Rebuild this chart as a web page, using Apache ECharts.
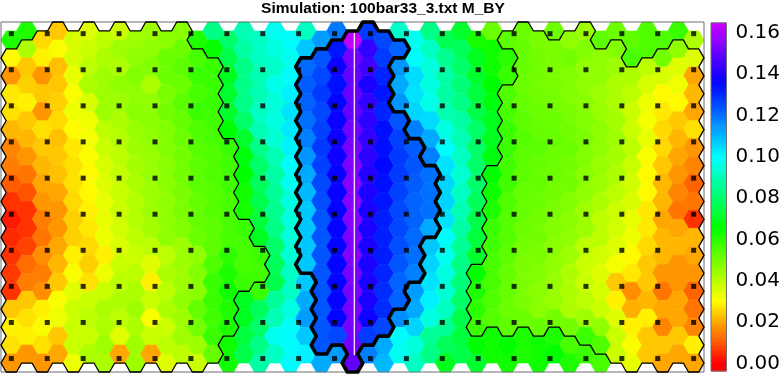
<!DOCTYPE html>
<html><head><meta charset="utf-8">
<script src="https://cdn.jsdelivr.net/npm/echarts@6/dist/echarts.min.js"></script>
<style>html,body{margin:0;padding:0;background:#fff}#chart{width:783px;height:374px}</style>
</head><body><div id="chart"></div>
<script>
// ---------------- data ----------------
const titleText = 'Simulation: 100bar33_3.txt M_BY';
const colorbarTicks = [0.00, 0.02, 0.04, 0.06, 0.08, 0.10, 0.12, 0.14, 0.16];
const colorbarRange = [-0.0037, 0.1648];
// colour scale anchors: [value, hue]
const hueAnchors = [[0, 0], [0.0306, 60], [0.066, 120], [0.100, 180], [0.136, 240], [0.1648, 288]];

// cell values (x 0.001), one row per hex row, 45 hex columns (left to right)
const cellRows = [
[62,62,26,24,36, 35,40,38,44,44, 47,47,62,84,80, 90,92,98,100,92, 114,119,163,128,126, 93,98,84,77,72, 63,51,53,51,49, 51,46,44,53,51, 53,55,55,58,42],
[30,42,29,31,36, 38,42,44,46,46, 51,51,56,65,76, 88,92,96,98,108, 124,133,152,143,128, 122,100,92,85,78, 70,64,60,52,50, 49,50,48,46,48, 56,55,50,46,35],
[18,24,18,23,34, 40,44,42,48,48, 51,53,58,58,70, 84,90,93,100,121, 126,138,150,145,131, 115,105,95,88,80, 72,64,58,52,50, 49,48,46,46,44, 42,40,36,35,20],
[28,25,24,24,31, 42,44,46,46,42, 49,51,56,58,72, 84,90,97,102,123, 128,134,151,140,133, 112,104,96,88,82, 74,66,55,51,50, 49,48,46,44,42, 40,36,30,33,22],
[27,29,18,25,33, 36,44,44,47,46, 50,53,58,58,72, 84,92,95,104,122, 126,136,150,143,131, 115,106,97,90,84, 76,68,56,52,51, 50,49,47,45,42, 38,33,28,30,20],
[22,24,27,26,30, 33,40,42,45,47, 48,52,55,57,66, 80,90,96,103,120, 127,137,152,142,134, 124,118,105,96,88, 80,70,58,53,52, 51,50,48,46,43, 38,32,26,24,27],
[16,22,24,23,28, 32,38,41,44,46, 48,51,54,56,58, 72,84,94,102,118, 128,138,153,143,134, 127,123,112,100,90, 80,70,58,54,53, 52,51,49,46,44, 40,34,26,22,18],
[15,18,22,24,27, 31,36,40,43,45, 47,50,53,55,57, 68,80,90,100,115, 127,138,154,142,135, 128,124,118,104,92, 80,68,57,53,52, 51,50,48,45,43, 38,31,24,20,16],
[11,14,20,23,27, 30,35,39,42,45, 47,50,53,55,57, 66,78,88,98,112, 126,137,155,141,134, 128,123,120,106,94, 80,66,57,53,52, 51,50,47,44,42, 37,30,22,18,12],
[6,10,18,20,26, 30,34,38,41,44, 46,49,52,54,56, 64,76,86,96,110, 125,137,155,140,133, 127,122,120,106,92, 78,64,55,52,51, 50,48,46,42,40, 36,30,22,16,14],
[3,6,15,18,25, 29,34,38,41,44, 46,49,52,54,56, 63,74,85,95,108, 124,136,155,140,132, 126,122,120,104,90, 76,62,54,52,50, 49,47,44,40,38, 34,28,20,14,6],
[5,6,14,18,25, 28,33,37,40,43, 46,48,51,53,56, 58,70,84,95,108, 124,136,154,140,132, 126,121,112,100,88, 74,58,54,51,50, 48,46,44,40,37, 33,28,22,20,22],
[6,8,17,20,29, 26,29,36,38,40, 40,44,46,53,60, 56,58,80,94,108, 124,136,154,140,132, 125,120,108,98,86, 72,57,53,50,49, 47,44,40,37,35, 30,26,22,22,20],
[7,13,15,22,31, 25,33,38,40,35, 42,44,48,55,62, 56,57,78,92,108, 124,136,153,140,131, 124,118,106,96,84, 66,56,52,49,48, 46,42,38,35,32, 28,24,18,18,18],
[6,15,17,24,35, 27,38,40,42,29, 40,44,47,58,64, 58,58,76,92,108, 124,136,153,140,130, 122,114,104,94,82, 62,56,52,49,47, 45,42,38,36,24, 17,24,14,18,12],
[24,24,29,31,38, 38,42,42,44,38, 42,46,52,58,62, 70,78,86,96,112, 124,136,153,140,130, 122,112,102,92,80, 60,55,51,49,47, 45,42,40,38,29, 21,22,20,20,14],
[29,27,31,33,38, 40,42,40,42,31, 38,44,50,57,62, 70,80,90,100,114, 124,136,153,138,126, 116,106,96,86,76, 58,54,53,51,52, 50,50,44,46,35, 29,29,16,20,16],
[27,29,27,24,38, 38,44,35,44,38, 40,44,44,58,64, 74,84,98,100,108, 124,126,152,128,112, 100,95,86,78,74, 66,64,66,62,64, 62,56,58,55,38, 31,24,24,24,29],
[18,18,18,20,33, 42,42,20,44,20, 35,40,38,52,64, 76,88,92,100,102, 112,114,150,118,110, 98,92,84,70,76, 72,64,64,62,64, 66,62,58,56,38, 34,24,20,20,20]
];

// thin contour: cells inside the low region (1) / outside (0)
const thinMaskRows = [
"00 11111 11111 00000 00000 00000 00000 111 0 11 00000 00",
"11111 11111 111 00000 00000 00000 00000 11111 11 00 111",
"11111 11111 1111 00000 00000 00000 0000 11111 11111 11",
"11111 11111 1111 00000 00000 00000 000 11111 11111 111",
"11111 11111 1111 00000 00000 00000 000 11111 11111 111",
"11111 11111 1111 00000 00000 00000 000 11111 11111 111",
"11111 11111 11111 00000 00000 00000 00 11111 11111 111",
"11111 11111 11111 00000 00000 00000 00 11111 11111 111",
"11111 11111 11111 00000 00000 00000 0 11111 11111 1111",
"11111 11111 11111 00000 00000 00000 0 11111 11111 1111",
"11111 11111 11111 00000 00000 00000 0 11111 11111 1111",
"11111 11111 11111 1 00000 00000 00000 11111 11111 1111",
"11111 11111 11111 11 00000 00000 0000 11111 11111 1111",
"11111 11111 11111 11 00000 00000 000 11111 11111 11111",
"11111 11111 11111 1 00000 00000 0000 11111 11111 11111",
"11111 11111 11111 00000 00000 00000 11111 11111 11111",
"11111 11111 11111 00000 00000 00000 11111 11111 11111",
"11111 11111 1111 00000 00000 00000 00000 000 11111 111",
"11111 11111 1111 00000 00000 00000 00000 00000 11111 1"
];
// thick contour: cells inside the high region
const thickMaskRows = [
"00000 00000 00000 00000 00 111 00000 00000 00000 00000",
"00000 00000 00000 00000 11111 1 00000 00000 00000 0000",
"00000 00000 00000 0000 11111 1 00000 00000 00000 00000",
"00000 00000 00000 0000 11111 1 00000 00000 00000 00000",
"00000 00000 00000 0000 11111 1 00000 00000 00000 00000",
"00000 00000 00000 0000 11111 11 00000 00000 00000 0000",
"00000 00000 00000 0000 11111 111 00000 00000 00000 000",
"00000 00000 00000 0000 11111 111 00000 00000 00000 000",
"00000 00000 00000 0000 11111 1111 00000 00000 00000 00",
"00000 00000 00000 0000 11111 1111 00000 00000 00000 00",
"00000 00000 00000 0000 11111 1111 00000 00000 00000 00",
"00000 00000 00000 0000 11111 1111 00000 00000 00000 00",
"00000 00000 00000 0000 11111 111 00000 00000 00000 000",
"00000 00000 00000 0000 11111 111 00000 00000 00000 000",
"00000 00000 00000 00000 11111 1 00000 00000 00000 0000",
"00000 00000 00000 00000 11111 1 00000 00000 00000 0000",
"00000 00000 00000 00000 11111 00000 00000 00000 00000",
"00000 00000 00000 00000 1111 00000 00000 00000 00000 0",
"00000 00000 00000 00000 00 1 00000 00000 00000 00000 00"
];
// sample points (black squares), in hex-column / hex-row units
const dotX = [0, 2.316, 4.632, 6.947, 9.263, 11.579, 13.895, 16.211, 18.526, 20.842, 23.158, 25.474, 27.789, 30.105, 32.421, 34.737, 37.053, 39.368, 41.684, 44.0];
const dotY = [0.65, 2.66, 4.67, 6.68, 8.70, 10.71, 12.72, 14.73, 16.74, 18.75];
// the bar (white line)
const barLine = [[22.12, 0.61], [22.12, 18.55]];

// ---------------- helpers ----------------
const NR = cellRows.length, NC = cellRows[0].length;
const HA = 2 / 3; // hex half width in column units
function cyOf(i, j) { return j + (i % 2 ? 0.5 : 1.0); }
function hueAt(v) {
  if (v <= hueAnchors[0][0]) return hueAnchors[0][1];
  for (let k = 1; k < hueAnchors.length; k++) {
    const a = hueAnchors[k - 1], b = hueAnchors[k];
    if (v <= b[0]) return a[1] + (b[1] - a[1]) * (v - a[0]) / (b[0] - a[0]);
  }
  return hueAnchors[hueAnchors.length - 1][1];
}
function hsv(h) {
  h = ((h % 360) + 360) % 360;
  const f = (n) => { const k = (n + h / 60) % 6; return 1 - Math.max(0, Math.min(k, 4 - k, 1)); };
  const to = (x) => Math.round(x * 255).toString(16).padStart(2, '0');
  return '#' + to(f(5)) + to(f(3)) + to(f(1));
}
const scaleColors = [];
for (let k = 0; k <= 80; k++) {
  const v = colorbarRange[0] + (colorbarRange[1] - colorbarRange[0]) * k / 80;
  scaleColors.push(hsv(hueAt(v)));
}
function hexPts(i, j) {
  const x = i, y = cyOf(i, j);
  return [[x + HA, y], [x + HA / 2, y + 0.5], [x - HA / 2, y + 0.5], [x - HA, y], [x - HA / 2, y - 0.5], [x + HA / 2, y - 0.5]];
}
function buildContours(rows) {
  const m = rows.map(r => r.replace(/ /g, ''));
  m.forEach((r, k) => { if (r.length !== NC) throw new Error('mask row ' + k + ' length ' + r.length); });
  const inside = (i, j) => i >= 0 && i < NC && j >= 0 && j < NR && m[j][i] === '1';
  const segs = [];
  for (let j = 0; j < NR; j++) for (let i = 0; i < NC; i++) {
    if (!inside(i, j)) continue;
    const odd = i % 2 === 1;
    const V = hexPts(i, j);
    const nb = [
      [V[5], V[0], odd ? [i + 1, j - 1] : [i + 1, j]],
      [V[0], V[1], odd ? [i + 1, j] : [i + 1, j + 1]],
      [V[1], V[2], [i, j + 1]],
      [V[2], V[3], odd ? [i - 1, j] : [i - 1, j + 1]],
      [V[3], V[4], odd ? [i - 1, j - 1] : [i - 1, j]],
      [V[4], V[5], [i, j - 1]]
    ];
    nb.forEach(([a, b, n]) => { if (!inside(n[0], n[1])) segs.push([a, b]); });
  }
  const key = p => Math.round(p[0] * 3) + ',' + Math.round(p[1] * 2);
  const map = {};
  segs.forEach((s, k) => { [0, 1].forEach(e => { const kk = key(s[e]); (map[kk] = map[kk] || []).push(k); }); });
  const used = new Array(segs.length).fill(false);
  const lines = [];
  for (let s0 = 0; s0 < segs.length; s0++) {
    if (used[s0]) continue;
    used[s0] = true;
    const pts = [segs[s0][0], segs[s0][1]];
    const extend = (atEnd) => {
      while (true) {
        const p = atEnd ? pts[pts.length - 1] : pts[0];
        const cand = (map[key(p)] || []).find(k => !used[k]);
        if (cand === undefined) break;
        used[cand] = true;
        const s = segs[cand];
        const q = key(s[0]) === key(p) ? s[1] : s[0];
        if (atEnd) pts.push(q); else pts.unshift(q);
      }
    };
    extend(true); extend(false);
    lines.push(pts);
  }
  return lines;
}
const thinLines = buildContours(thinMaskRows);
const thickLines = buildContours(thickMaskRows);

const cells = [];
cellRows.forEach((row, j) => row.forEach((v, i) => cells.push([i, j, v / 1000])));
const dots = [];
dotY.forEach(y => dotX.forEach(x => dots.push([x, y])));
const cbSlices = [];
const NS = 170;
for (let k = 0; k < NS; k++) {
  const v0 = colorbarRange[0] + (colorbarRange[1] - colorbarRange[0]) * k / NS;
  const v1 = colorbarRange[0] + (colorbarRange[1] - colorbarRange[0]) * (k + 1) / NS;
  cbSlices.push([0, v0, v1]);
}

function lineSeries(lines, width, z) {
  return {
    type: 'custom', xAxisIndex: 0, yAxisIndex: 0, z: z, silent: true,
    data: lines.map((l, k) => [k]),
    renderItem: (params, api) => {
      const pts = lines[params.dataIndex].map(p => api.coord(p));
      return { type: 'polyline', shape: { points: pts }, style: { stroke: '#000', lineWidth: width, fill: null, lineJoin: 'round', lineCap: 'round' } };
    }
  };
}

const chart = echarts.init(document.getElementById('chart'), null, { renderer: 'canvas' });
chart.setOption({
  animation: false,
  backgroundColor: '#fff',
  grid: [
    { left: 1, top: 22, width: 703, height: 350, show: false },
    { left: 711, top: 32.7, width: 16.5, height: 330.6, show: false }
  ],
  xAxis: [
    { gridIndex: 0, type: 'value', min: -HA, max: NC - 1 + HA, show: false },
    { gridIndex: 1, type: 'value', min: 0, max: 1, show: false }
  ],
  yAxis: [
    { gridIndex: 0, type: 'value', min: 0, max: NR + 0.5, inverse: true, show: false },
    { gridIndex: 1, type: 'value', min: colorbarTicks[0], max: colorbarTicks[colorbarTicks.length - 1],
      interval: colorbarTicks[1] - colorbarTicks[0], position: 'right',
      axisLine: { show: false }, splitLine: { show: false },
      axisTick: { show: true, length: 5, lineStyle: { color: '#444', width: 1 } },
      axisLabel: { margin: 9, fontSize: 20, fontFamily: 'DejaVu Sans', color: '#000', formatter: v => v.toFixed(2) } }
  ],
  visualMap: {
    type: 'continuous', show: false, seriesIndex: 0, dimension: 2,
    min: colorbarRange[0], max: colorbarRange[1], inRange: { color: scaleColors }
  },
  graphic: [{
    type: 'text', x: 383, y: 1,
    style: { text: titleText, textAlign: 'center', textVerticalAlign: 'top', font: 'bold 15.5px "Liberation Sans", Arial, sans-serif', fill: '#000' }
  }],
  series: [
    {
      type: 'custom', xAxisIndex: 0, yAxisIndex: 0, z: 2, silent: true,
      data: cells,
      renderItem: (params, api) => {
        const i = api.value(0), j = api.value(1);
        const pts = hexPts(i, j).map(p => api.coord(p));
        const c = api.visual('color');
        return { type: 'polygon', shape: { points: pts }, style: { fill: c, stroke: c, lineWidth: 0.6 } };
      }
    },
    {
      type: 'custom', xAxisIndex: 0, yAxisIndex: 0, z: 3, silent: true, data: [[0]],
      renderItem: (params, api) => {
        const a = api.coord([-HA, 0]), b = api.coord([NC - 1 + HA, NR + 0.5]);
        return { type: 'rect', shape: { x: a[0], y: a[1], width: b[0] - a[0], height: b[1] - a[1] }, style: { fill: null, stroke: '#6e6e6e', lineWidth: 1 } };
      }
    },
    {
      type: 'line', xAxisIndex: 0, yAxisIndex: 0, z: 3, silent: true, data: barLine, symbol: 'none',
      lineStyle: { color: '#f3dcff', width: 1.4 }
    },
    lineSeries(thinLines, 1.3, 4),
    lineSeries(thickLines, 3.6, 5),
    {
      type: 'scatter', xAxisIndex: 0, yAxisIndex: 0, z: 6, silent: true, data: dots,
      symbol: 'rect', symbolSize: 5, itemStyle: { color: '#000' }
    },
    {
      type: 'custom', xAxisIndex: 1, yAxisIndex: 1, z: 2, silent: true, data: cbSlices,
      renderItem: (params, api) => {
        const a = api.coord([0, api.value(2)]), b = api.coord([1, api.value(1)]);
        const c = hsv(hueAt((api.value(1) + api.value(2)) / 2));
        return { type: 'rect', shape: { x: a[0], y: a[1], width: b[0] - a[0], height: b[1] - a[1] + 0.6 }, style: { fill: c } };
      }
    },
    {
      type: 'custom', xAxisIndex: 1, yAxisIndex: 1, z: 3, silent: true, data: [[0]],
      renderItem: (params, api) => {
        const a = api.coord([0, colorbarRange[1]]), b = api.coord([1, colorbarRange[0]]);
        return { type: 'rect', shape: { x: a[0], y: a[1], width: b[0] - a[0], height: b[1] - a[1] }, style: { fill: null, stroke: '#6e6e6e', lineWidth: 1 } };
      }
    }
  ]
});
</script></body></html>
